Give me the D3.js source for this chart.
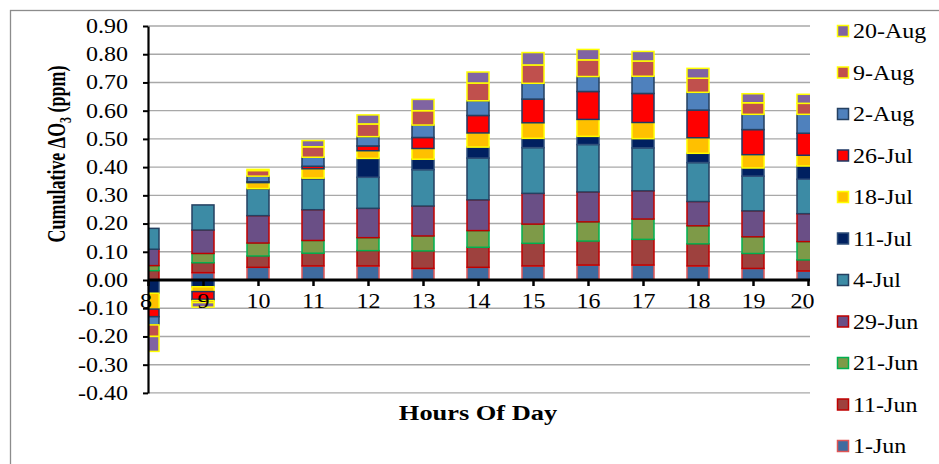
<!DOCTYPE html>
<html><head><meta charset="utf-8">
<script src="https://cdn.jsdelivr.net/npm/d3@7"></script>
<style>body{margin:0;background:#fff}svg{display:block}text{font-family:"Liberation Serif","Times New Roman",serif;fill:#000}</style>
</head><body><svg id="c" width="939" height="464"></svg>
<script>
const hours = [8,9,10,11,12,13,14,15,16,17,18,19,20];
const seriesNames = ["1-Jun","11-Jun","21-Jun","29-Jun","4-Jul","11-Jul","18-Jul","26-Jul","2-Aug","9-Aug","20-Aug"];
const jun1  = [0.000, 0.026, 0.045, 0.050, 0.050, 0.041, 0.045, 0.050, 0.053, 0.053, 0.050, 0.041, 0.032];
const jun11 = [0.033, 0.035, 0.040, 0.045, 0.054, 0.062, 0.071, 0.080, 0.085, 0.091, 0.078, 0.053, 0.039];
const jun21 = [0.018, 0.033, 0.046, 0.045, 0.046, 0.053, 0.059, 0.068, 0.068, 0.072, 0.064, 0.059, 0.065];
const jun29 = [0.058, 0.083, 0.097, 0.109, 0.104, 0.106, 0.109, 0.109, 0.106, 0.100, 0.086, 0.092, 0.099];
const jul4  = [0.074, 0.089, 0.094, 0.109, 0.110, 0.129, 0.148, 0.162, 0.168, 0.152, 0.138, 0.123, 0.122];
const jul11 = [-0.047, -0.024, 0.002, 0.003, 0.067, 0.037, 0.039, 0.033, 0.029, 0.033, 0.033, 0.029, 0.047];
const jul18 = [-0.056, -0.017, 0.021, 0.033, 0.027, 0.038, 0.050, 0.055, 0.060, 0.057, 0.055, 0.047, 0.038];
const jul26 = [-0.027, -0.028, 0.003, 0.009, 0.017, 0.039, 0.062, 0.084, 0.099, 0.103, 0.098, 0.089, 0.078];
const aug2  = [-0.029, -0.004, 0.020, 0.032, 0.033, 0.044, 0.052, 0.056, 0.053, 0.061, 0.063, 0.054, 0.067];
const aug9  = [-0.041, -0.007, 0.020, 0.037, 0.045, 0.051, 0.063, 0.065, 0.059, 0.054, 0.050, 0.041, 0.039];
const aug20 = [-0.053, -0.016, 0.004, 0.022, 0.032, 0.040, 0.039, 0.044, 0.037, 0.034, 0.035, 0.032, 0.032];
const yTicks = [-0.4,-0.3,-0.2,-0.1,0,0.1,0.2,0.3,0.4,0.5,0.6,0.7,0.8,0.9];

const seriesValues = [jun1,jun11,jun21,jun29,jul4,jul11,jul18,jul26,aug2,aug9,aug20];
const fills   = ["#3F6B9F","#9E413E","#7E9A48","#6A4F86","#3C8BA5","#002060","#FFC000","#FF0000","#4F81BD","#C0504D","#8064A2"];
const strokes = ["#E05555","#C00000","#00B050","#C00000","#254061","#2F4F7A","#FFFF00","#1F3864","#254061","#FFFF00","#FFFF00"];

const table = hours.map((h,i)=>{const r={hour:h}; seriesNames.forEach((n,j)=>r[n]=seriesValues[j][i]); return r;});
const stacked = d3.stack().keys(seriesNames).offset(d3.stackOffsetDiverging)(table);

const svg = d3.select("#c");
const SX = 1.2;
const plotL = 148, plotR = 810;
const x = d3.scaleLinear().domain([8,20]).range([148,808]);
const y = d3.scaleLinear().domain([-0.4,0.9]).range([392.9,26]);
const barW = 22;

// outer frame
svg.append("rect").attr("x",10.5).attr("y",10.5).attr("width",960).attr("height",480)
  .attr("fill","none").attr("stroke","#8c8c8c").attr("stroke-width",1.3);

// gridlines
svg.append("g").selectAll("line").data(yTicks.filter(d=>d!==0)).join("line")
  .attr("x1",plotL).attr("x2",plotR).attr("y1",d=>y(d)).attr("y2",d=>y(d))
  .attr("stroke","#a8a8a8").attr("stroke-width",1.4);

// clip
svg.append("clipPath").attr("id","pc").append("rect")
  .attr("x",plotL).attr("y",0).attr("width",plotR-plotL).attr("height",464);

// bars
const bars = svg.append("g").attr("clip-path","url(#pc)");
stacked.forEach((layer,j)=>{
  bars.append("g").selectAll("rect").data(layer).join("rect")
    .attr("x",d=>x(d.data.hour)-barW/2).attr("width",barW)
    .attr("y",d=>y(Math.max(d[0],d[1])))
    .attr("height",d=>Math.abs(y(d[0])-y(d[1])))
    .attr("fill",fills[j]).attr("stroke",strokes[j]).attr("stroke-width",1.5);
});

// y axis
const ya = svg.append("g").attr("transform",`translate(${plotL},0)`)
  .call(d3.axisLeft(y).tickValues(yTicks).tickFormat(d=>d.toFixed(2)).tickSize(5).tickSizeOuter(0));
ya.select(".domain").attr("stroke","#000").attr("stroke-width",2.2);
ya.selectAll(".tick line").attr("stroke","#000").attr("stroke-width",2);
ya.selectAll("text").attr("font-size",20).attr("font-family",null)
  .attr("x",-20/SX).attr("transform",`scale(${SX},1)`);

// x axis
const xa = svg.append("g").attr("transform",`translate(0,${y(0)})`)
  .call(d3.axisBottom(x).tickValues(hours).tickFormat(d3.format("d")).tickSize(6).tickSizeOuter(0));
xa.select(".domain").remove();
xa.append("line").attr("x1",plotL).attr("x2",plotR).attr("y1",0).attr("y2",0)
  .attr("stroke","#000").attr("stroke-width",3);
xa.selectAll(".tick line").attr("stroke","#000").attr("stroke-width",2.5);
xa.selectAll("text").attr("font-size",20).attr("font-family",null).attr("y",14)
  .attr("transform",`scale(${SX},1)`)
  .attr("dx",(d,i,n)=> i===n.length-1 ? -5 : (i===0 ? -2 : 0));

// axis titles
svg.append("text").attr("transform",`translate(478,420) scale(${SX},1)`)
  .attr("text-anchor","middle").attr("font-size",22).attr("font-weight","bold").text("Hours Of Day");
const yt = svg.append("text").attr("transform",`translate(65,154) scale(1.45,1) rotate(-90)`)
  .attr("text-anchor","middle").attr("font-size",18).attr("font-weight","bold");
yt.append("tspan").text("Cumulative ΔO");
yt.append("tspan").attr("font-size",12).attr("dy",4).text("3");
yt.append("tspan").attr("dy",-4).text(" (ppm)");

// legend
const legendOrder = d3.range(seriesNames.length).reverse();
const lg = svg.append("g").selectAll("g").data(legendOrder).join("g")
  .attr("transform",(d,i)=>`translate(837,${31+i*41.5})`);
lg.append("rect").attr("x",0.5).attr("y",-5.5).attr("width",11).attr("height",11)
  .attr("fill",d=>fills[d]).attr("stroke",d=>strokes[d]).attr("stroke-width",1.5);
lg.append("text").attr("transform",`translate(16,7) scale(${SX},1)`).attr("font-size",20)
  .text(d=>seriesNames[d]);
</script></body></html>
